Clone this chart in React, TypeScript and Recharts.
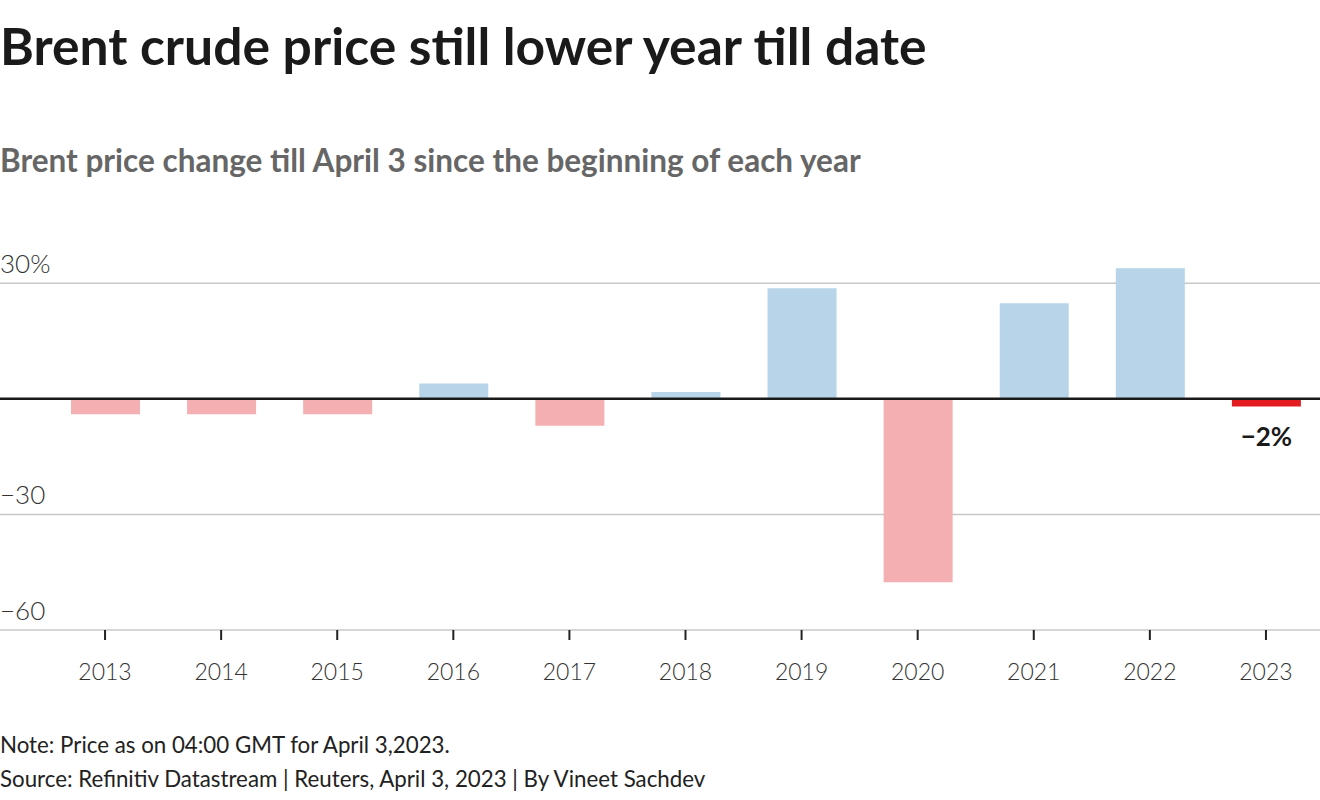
import React from "react";
import {
  BarChart,
  Bar,
  XAxis,
  YAxis,
  CartesianGrid,
  ReferenceLine,
  Cell,
  LabelList,
} from "recharts";

const years = ["2013", "2014", "2015", "2016", "2017", "2018", "2019", "2020", "2021", "2022", "2023"];
const changes = [-4, -4, -4, 4, -7, 1.8, 28.7, -47.6, 24.8, 33.9, -2];
const labels = ["", "", "", "", "", "", "", "", "", "", "−2%"];
const yTicks = [-60, -30, 0, 30];
const gridValues = [-60, -30, 30];
const yTickLabels: Record<string, string> = { "30": "30%", "0": "", "-30": "−30", "-60": "−60" };

const data = years.map((year, i) => ({ year, change: changes[i], label: labels[i] }));

const FONT = "Lato, 'Noto Sans', sans-serif";
const UP = "#b8d4e8";
const DOWN = "#f4afb2";
const HIGHLIGHT = "#e31d1f";

function ValueLabel(props: any) {
  const { x, y, width, height, value } = props;
  if (!value) return null;
  const bottom = Math.max(y, y + height);
  return (
    <text x={x + width / 2} y={bottom + 39} textAnchor="middle" fill="#1a1a1a" fontSize={26} fontWeight={700} fontFamily={FONT}>
      {value}
    </text>
  );
}

function YTick(props: any) {
  const { y, payload } = props;
  const text = yTickLabels[String(payload.value)];
  if (!text) return null;
  return (
    <text x={0} y={y - 10} textAnchor="start" fill="#333" fontSize={26} fontWeight={300} fontFamily={FONT}>
      {text}
    </text>
  );
}

export default function App() {
  return (
    <div style={{ position: "relative", width: 1320, height: 800, overflow: "hidden", fontFamily: FONT, background: "#fff" }}>
      <style>{`body{margin:0}`}</style>
      <div style={{ position: "absolute", left: 0, top: 20, fontSize: 51.6, lineHeight: "51px", fontWeight: 700, color: "#1a1a1a", whiteSpace: "nowrap" }}>
        Brent crude price still lower year till date
      </div>
      <div style={{ position: "absolute", left: 0, top: 145, fontSize: 31.5, lineHeight: "31px", fontWeight: 700, color: "#666", whiteSpace: "nowrap" }}>
        Brent price change till April 3 since the beginning of each year
      </div>
      <div style={{ position: "absolute", left: 0, top: 200 }}>
        <BarChart width={1320} height={500} data={data} margin={{ top: 64, right: 0, bottom: 0, left: 0 }}>
          <CartesianGrid vertical={false} horizontalValues={gridValues} stroke="#c8c8c8" strokeWidth={1.5} />
          <XAxis
            dataKey="year"
            axisLine={false}
            tickLine={{ stroke: "#222", strokeWidth: 2 }}
            tickSize={10}
            tickMargin={24}
            height={70}
            padding={{ left: 47, right: -4 }}
            tick={{ fill: "#333", fontSize: 23, fontWeight: 300, fontFamily: FONT }}
            interval={0}
          />
          <YAxis
            width={60}
            mirror
            domain={[-60, 35]}
            ticks={yTicks}
            interval={0}
            axisLine={false}
            tickLine={false}
            tick={<YTick />}
          />
          <Bar dataKey="change" barSize={69} isAnimationActive={false}>
            {data.map((d) => (
              <Cell key={d.year} fill={d.label ? HIGHLIGHT : d.change >= 0 ? UP : DOWN} />
            ))}
            <LabelList dataKey="label" content={<ValueLabel />} />
          </Bar>
          <ReferenceLine y={0} stroke="#1a1a1a" strokeWidth={2.5} />
        </BarChart>
      </div>
      <div style={{ position: "absolute", left: 0, top: 734, fontSize: 22.3, lineHeight: "22px", color: "#222", whiteSpace: "nowrap" }}>
        Note: Price as on 04:00 GMT for April 3,2023.
      </div>
      <div style={{ position: "absolute", left: 0, top: 768, fontSize: 22.3, lineHeight: "22px", color: "#222", whiteSpace: "nowrap" }}>
        Source: Refinitiv Datastream | Reuters, April 3, 2023 | By Vineet Sachdev
      </div>
    </div>
  );
}
